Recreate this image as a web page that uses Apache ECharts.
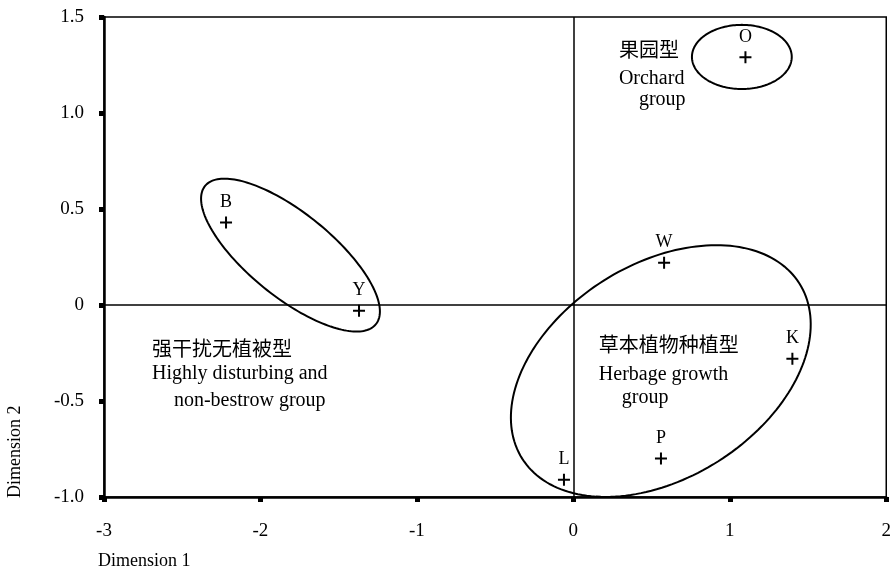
<!DOCTYPE html>
<html>
<head>
<meta charset="utf-8">
<script src="https://cdn.jsdelivr.net/npm/echarts@6/dist/echarts.min.js"></script>
<style>html,body{margin:0;padding:0;background:#fff}#c{width:894px;height:572px}</style>
</head>
<body>
<div id="c"></div>
<script>
// ---- data ----
const pointNames = ['B', 'Y', 'W', 'K', 'P', 'L', 'O'];
const dim1 = [-2.22, -1.37, 0.58, 1.40, 0.56, -0.06, 1.10];
const dim2 = [0.43, -0.03, 0.22, -0.28, -0.80, -0.91, 1.29];

const xTicks = [-3, -2, -1, 0, 1, 2];
const yTicks = [-1.0, -0.5, 0, 0.5, 1.0, 1.5];

// group ellipses: centre, end of one semi-axis, end of the conjugate semi-axis (data units)
const ellipseCenterX = [-1.808, 0.559, 1.077];
const ellipseCenterY = [0.260, -0.344, 1.292];
const ellipseAxisAX = [-1.262, 1.445, 1.396];
const ellipseAxisAY = [-0.100, 0.112, 1.292];
const ellipseAxisBX = [-1.639, 0.194, 1.077];
const ellipseAxisBY = [0.430, 0.127, 1.459];

// group notes
const noteText = ['强干扰无植被型', 'Highly disturbing and', 'non-bestrow group',
  '草本植物种植型', 'Herbage growth', 'group',
  '果园型', 'Orchard', 'group'];
const noteX = [-2.693, -2.693, -2.553, 0.163, 0.163, 0.310, 0.291, 0.291, 0.419];
const noteY = [-0.236, -0.359, -0.500, -0.217, -0.365, -0.484, 1.318, 1.177, 1.068];

// ---- chart ----
const FONT = "'Liberation Serif', 'Times New Roman', 'Noto Sans CJK SC', serif";
const chart = echarts.init(document.getElementById('c'), null, {renderer: 'canvas'});

const pointData = pointNames.map((n, i) => ({name: n, value: [dim1[i], dim2[i]]}));
const ellipseData = ellipseCenterX.map((_, i) => [ellipseCenterX[i], ellipseCenterY[i],
  ellipseAxisAX[i], ellipseAxisAY[i], ellipseAxisBX[i], ellipseAxisBY[i]]);
const noteData = noteText.map((t, i) => [noteX[i], noteY[i], i]);

const plus = 'path://M5,0H7V5H12V7H7V12H5V7H0V5H5Z';

chart.setOption({
  animation: false,
  backgroundColor: '#fff',
  grid: {left: 104, right: 7, top: 17, bottom: 75, show: true, borderColor: '#000', borderWidth: 1.5, backgroundColor: 'transparent'},
  xAxis: {
    type: 'value', min: xTicks[0], max: xTicks[xTicks.length - 1], interval: 1,
    axisLine: {show: true, onZero: false, lineStyle: {color: '#000', width: 2.5}},
    axisTick: {show: true, length: 5, lineStyle: {color: '#000', width: 5}},
    axisLabel: {color: '#000', fontFamily: FONT, fontSize: 19, margin: 25},
    splitLine: {show: false}
  },
  yAxis: {
    type: 'value', min: yTicks[0], max: yTicks[yTicks.length - 1], interval: 0.5,
    axisLine: {show: true, onZero: false, lineStyle: {color: '#000', width: 2.5}},
    axisTick: {show: true, length: 5, lineStyle: {color: '#000', width: 5}},
    axisLabel: {color: '#000', fontFamily: FONT, fontSize: 19, margin: 20,
      formatter: v => (v === 0 ? '0' : v.toFixed(1))},
    splitLine: {show: false}
  },
  graphic: [
    {type: 'text', left: 98, top: 552, style: {text: 'Dimension 1', font: '18px ' + FONT, fill: '#000'}},
    {type: 'text', x: 6, y: 498, rotation: Math.PI / 2, style: {text: 'Dimension 2', font: '18px ' + FONT, fill: '#000', align: 'left', verticalAlign: 'top'}}
  ],
  series: [
    {
      type: 'custom',
      coordinateSystem: 'cartesian2d',
      data: ellipseData,
      silent: true,
      z: 3,
      renderItem: function (params, api) {
        const c = api.coord([api.value(0), api.value(1)]);
        const a = api.coord([api.value(2), api.value(3)]);
        const b = api.coord([api.value(4), api.value(5)]);
        const ux = a[0] - c[0], uy = a[1] - c[1];
        const vx = b[0] - c[0], vy = b[1] - c[1];
        const pts = [];
        for (let k = 0; k <= 180; k++) {
          const t = k / 180 * Math.PI * 2;
          pts.push([c[0] + ux * Math.cos(t) + vx * Math.sin(t), c[1] + uy * Math.cos(t) + vy * Math.sin(t)]);
        }
        return {type: 'polyline', shape: {points: pts}, style: {fill: null, stroke: '#000', lineWidth: 2}};
      }
    },
    {
      type: 'custom',
      coordinateSystem: 'cartesian2d',
      data: noteData,
      silent: true,
      z: 4,
      renderItem: function (params, api) {
        const p = api.coord([api.value(0), api.value(1)]);
        return {type: 'text', x: p[0], y: p[1],
          style: {text: noteText[api.value(2)], font: '20px ' + FONT, fill: '#000', align: 'left', verticalAlign: 'middle'}};
      }
    },
    {
      type: 'scatter',
      data: pointData,
      symbol: plus,
      symbolSize: 12,
      itemStyle: {color: '#000', opacity: 1},
      label: {show: true, position: 'top', distance: 5, formatter: '{b}', color: '#000', fontFamily: FONT, fontSize: 18},
      z: 5,
      markLine: {
        silent: true,
        symbol: 'none',
        label: {show: false},
        lineStyle: {color: '#000', width: 1.5, type: 'solid'},
        data: [{xAxis: 0}, {yAxis: 0}]
      }
    }
  ]
});
</script>
</body>
</html>
